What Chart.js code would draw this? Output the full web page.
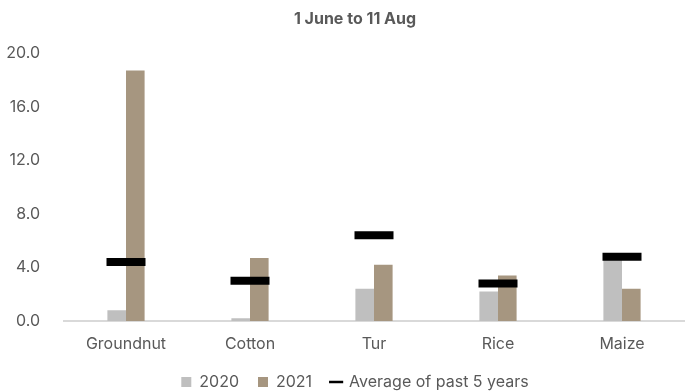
<!DOCTYPE html>
<html>
<head>
<meta charset="utf-8">
<script src="https://cdn.jsdelivr.net/npm/chart.js@4/dist/chart.umd.min.js"></script>
<style>
  html, body { margin: 0; padding: 0; background: #fff; }
  #wrap { width: 690px; height: 392px; }
</style>
</head>
<body>
<div id="wrap"><canvas id="grafico"></canvas></div>
<script>
let cultivos = ['Groundnut', 'Cotton', 'Tur', 'Rice', 'Maize'];
let valores2020 = [0.8, 0.2, 2.4, 2.2, 4.7];
let valores2021 = [18.7, 4.7, 4.2, 3.4, 2.4];
let promedio5 = [4.4, 3.0, 6.4, 2.8, 4.8];
let ticksY = [0, 4, 8, 12, 16, 20];

let gris = '#595959';
let fuente = 'Inter, Roboto, sans-serif';

let ctx = document.getElementById('grafico').getContext('2d');
let parametros = {
    type: 'bar',
    data: {
        labels: cultivos,
        datasets: [
            {
                label: '2020',
                data: valores2020,
                backgroundColor: '#bfbfbf',
                pointStyle: 'rect',
                categoryPercentage: 0.3,
                barPercentage: 1.0,
                order: 1
            },
            {
                label: '2021',
                data: valores2021,
                backgroundColor: '#a69680',
                pointStyle: 'rect',
                categoryPercentage: 0.3,
                barPercentage: 1.0,
                order: 1
            },
            {
                type: 'line',
                label: 'Average of past 5 years',
                data: promedio5,
                showLine: false,
                borderColor: '#000',
                backgroundColor: '#000',
                pointStyle: 'line',
                pointRadius: 19.5,
                pointHoverRadius: 19.5,
                pointBorderWidth: 8,
                order: 0
            }
        ]
    },
    options: {
        responsive: true,
        maintainAspectRatio: false,
        animation: false,
        // title and legend are centred a little right of the canvas middle
        layout: { padding: { left: 4, right: -16, top: 7, bottom: 0 } },
        plugins: {
            title: {
                display: true,
                text: '1 June to 11 Aug',
                color: gris,
                font: { family: fuente, size: 16, weight: 'bold' },
                padding: { top: 3, bottom: 24 }
            },
            legend: {
                position: 'bottom',
                maxHeight: 37,
                labels: {
                    color: gris,
                    font: { family: fuente, size: 16 },
                    usePointStyle: true,
                    boxWidth: 10,
                    boxHeight: 10,
                    padding: 19,
                    sort: (a, b) => a.datasetIndex - b.datasetIndex,
                    generateLabels: (chart) => {
                        let items = Chart.defaults.plugins.legend.labels.generateLabels(chart);
                        items.forEach(it => {
                            if (it.datasetIndex === 2) { it.lineWidth = 2.5; }
                            else { it.lineWidth = 0; }
                        });
                        return items;
                    }
                }
            },
            tooltip: { enabled: false }
        },
        scales: {
            x: {
                grid: { display: false, drawTicks: false },
                border: { color: '#d9d9d9', width: 2 },
                afterFit: (s) => { s.paddingRight = 6; s.height = 34; },
                ticks: { color: gris, font: { family: fuente, size: 16, lineHeight: 1 }, padding: 15 }
            },
            y: {
                min: 0,
                max: 20,
                afterBuildTicks: (s) => { s.ticks = ticksY.map(v => ({ value: v })); },
                afterFit: (s) => { s.width = 60; },
                grid: { display: false },
                border: { display: false },
                ticks: {
                    color: gris,
                    font: { family: fuente, size: 16 },
                    padding: 16,
                    callback: (v) => Number(v).toFixed(1)
                }
            }
        }
    }
};
var grafico = new Chart(ctx, parametros);
// the average markers are wide points; keep them from shrinking the plot area
grafico.getDatasetMeta(2).controller.getMaxOverflow = () => 0;
grafico.update();
</script>
</body>
</html>
